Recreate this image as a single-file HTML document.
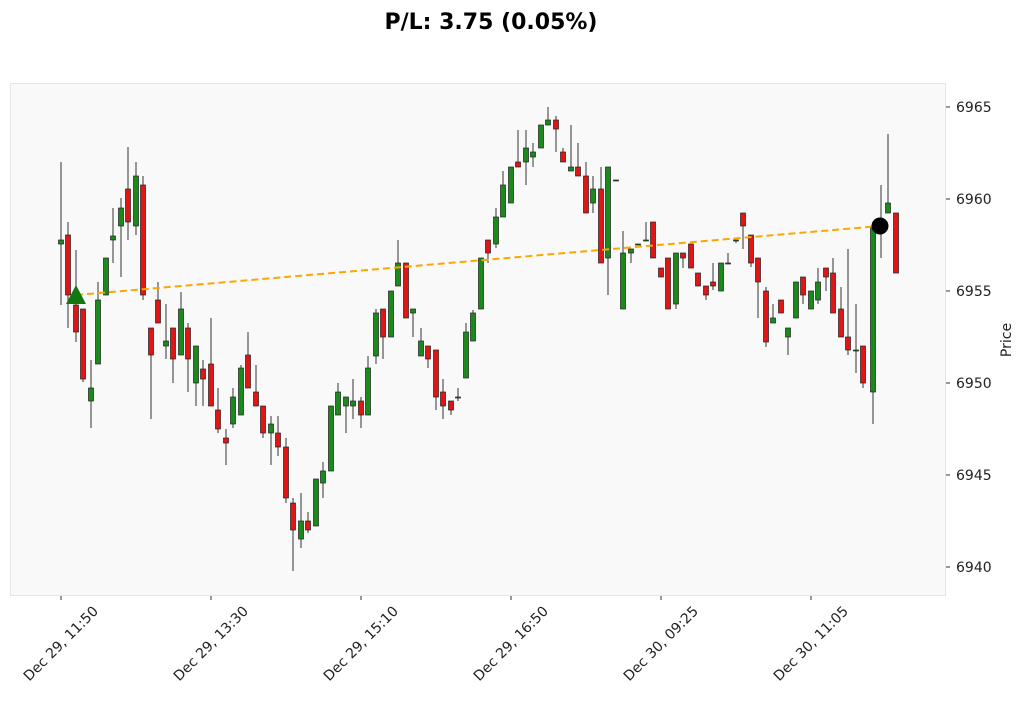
<!DOCTYPE html>
<html><head><meta charset="utf-8"><style>
body{margin:0;background:#fff;width:1024px;height:699px;overflow:hidden}
text{font-family:"DejaVu Sans","Liberation Sans",sans-serif;fill:#222}
</style></head><body>
<svg id="s" width="1024" height="699" xmlns="http://www.w3.org/2000/svg">
<rect x="0" y="0" width="1024" height="699" fill="#fff"/>
<rect x="10.5" y="83.5" width="935" height="512" fill="#f9f9f9" stroke="#e6e6e6"/>
<text x="491" y="29" font-size="22" font-weight="bold" text-anchor="middle" style="fill:#000">P/L: 3.75 (0.05%)</text>
<g id="g"></g>
</svg>
<script>
var d=[
[61,240,244,162,305,'g'],[68,235,295,222,328,'r'],[76,305,332,250,342,'r'],[83,309,379,309,382,'r'],
[91,388,401,360,428,'g'],[98,300,364,282,364,'g'],[106,258,295,258,295,'g'],[113,236,240,208,263,'g'],
[121,208,226,198,277,'g'],[128,189,222,147,240,'r'],[136,176,226,162,235,'g'],[143,185,295,176,300,'r'],
[151,328,355,328,419,'r'],[158,300,323,282,323,'r'],[166,341,346,304,359,'g'],[173,328,359,328,383,'r'],
[181,309,355,292,355,'g'],[188,328,359,323,392,'r'],[196,346,383,346,406,'g'],[203,369,379,360,406,'r'],
[211,364,406,318,406,'r'],[218,410,429,388,433,'r'],[226,438,443,429,465,'r'],[233,397,424,388,428,'g'],
[241,368,415,365,415,'g'],[248,355,388,332,388,'r'],[256,392,406,365,406,'r'],[263,406,433,406,438,'r'],
[271,424,433,416,465,'g'],[278,433,447,416,456,'r'],[286,447,498,438,503,'r'],[293,503,530,498,571,'r'],
[301,521,539,493,548,'g'],[308,521,530,512,533,'r'],[316,479,526,479,526,'g'],[323,471,483,462,498,'g'],
[331,406,471,406,471,'g'],[338,392,415,383,415,'g'],[346,397,406,397,433,'g'],[353,401,406,379,419,'g'],
[361,401,415,397,428,'r'],[368,368,415,356,415,'g'],[376,313,356,309,364,'g'],[383,309,337,309,359,'r'],
[391,291,337,291,337,'g'],[398,263,286,240,286,'g'],[406,263,318,263,318,'r'],[413,309,313,309,337,'g'],
[421,341,356,328,356,'g'],[428,346,359,346,368,'r'],[436,350,397,350,410,'r'],[443,392,406,379,419,'r'],
[451,401,410,401,415,'r'],[458,397,397.8,388,401,'g'],[466,332,378,323,378,'g'],[473,313,341,310,341,'g'],
[481,258,309,258,309,'g'],[488,240,253,240,263,'r'],[496,217,244,208,248,'g'],[503,185,217,171,217,'g'],
[511,167,203,167,203,'g'],[518,162,167,130,167,'r'],[526,148,162,130,185,'g'],[533,152,157,143,167,'g'],
[541,125,148,125,148,'g'],[548,120,125,107,125,'g'],[556,120,129,116,152,'r'],[563,152,162,148,162,'r'],
[571,167,171,125,171,'g'],[578,167,176,143,176,'r'],[586,176,213,162,213,'r'],[593,189,203,176,213,'g'],
[601,189,263,167,263,'r'],[608,167,258,167,295,'g'],[616,180,180.8,180,181,'g'],[623,253,309,231,309,'g'],
[631,249,253,249,263,'g'],[638,244,244.8,244,245,'g'],[646,240,240.8,222,241,'g'],[653,222,258,222,258,'r'],
[661,268,277,268,277,'r'],[668,258,309,258,309,'r'],[676,253,304,253,309,'g'],[683,253,258,253,268,'r'],
[691,244,268,244,268,'r'],[698,273,286,273,286,'r'],[706,286,295,286,300,'r'],[713,282,286,263,290,'r'],
[721,263,291,263,291,'g'],[728,263,263.8,253,264,'g'],[736,240,240.8,240,243,'g'],[743,213,226,213,249,'r'],
[751,235,263,235,267,'r'],[758,258,282,258,318,'r'],[766,291,342,287,347,'r'],[773,318,323,304,323,'g'],
[781,300,313,300,313,'r'],[788,328,337,328,355,'g'],[796,282,318,282,318,'g'],[803,277,295,277,304,'r'],
[811,291,309,291,309,'g'],[818,282,300,268,304,'g'],[826,268,277,268,291,'r'],[833,273,313,258,313,'r'],
[841,309,337,287,337,'r'],[848,337,350,249,355,'r'],[856,350,350.8,304,373,'g'],[863,346,383,346,388,'r'],
[873,227,392,227,424,'g'],[881,225,227,185,258,'g'],[888,203,213,134,213,'g'],[896,213,273,213,273,'r']];
var h='';
d.forEach(function(c){var x=c[0];
h+='<line x1="'+x+'" y1="'+c[3]+'" x2="'+x+'" y2="'+c[4]+'" stroke="#555" stroke-width="1.2"/>';
var hh=Math.max(c[2]-c[1],1);
h+='<rect x="'+(x-2.5)+'" y="'+c[1]+'" width="5" height="'+hh+'" fill="'+(c[5]=='g'?'#1a8a1a':'#e01515')+'" stroke="#222" stroke-width="0.7"/>';});
h+='<line x1="76" y1="295" x2="880" y2="226" stroke="#ffa500" stroke-width="2" stroke-dasharray="7,4"/>';
h+='<polygon points="76,285 66,304 86,304" fill="#117711"/>';
h+='<circle cx="880" cy="226" r="8.5" fill="#000"/>';
var yl=[[6965,107],[6960,199],[6955,291],[6950,383],[6945,475],[6940,567]];
yl.forEach(function(t){h+='<line x1="946" y1="'+t[1]+'" x2="950" y2="'+t[1]+'" stroke="#333"/><text x="956" y="'+(t[1]+5)+'" font-size="14">'+t[0]+'</text>';});
h+='<text transform="translate(1011,340) rotate(-90)" font-size="14" text-anchor="middle">Price</text>';
var xl=[[61,'Dec 29, 11:50'],[211,'Dec 29, 13:30'],[361,'Dec 29, 15:10'],[511,'Dec 29, 16:50'],[661,'Dec 30, 09:25'],[811,'Dec 30, 11:05']];
xl.forEach(function(t){h+='<line x1="'+t[0]+'" y1="596" x2="'+t[0]+'" y2="600" stroke="#333"/><text transform="translate('+(t[0]+38)+',612) rotate(-45)" font-size="14" text-anchor="end">'+t[1]+'</text>';});
document.getElementById('g').innerHTML=h;
</script>
</body></html>
